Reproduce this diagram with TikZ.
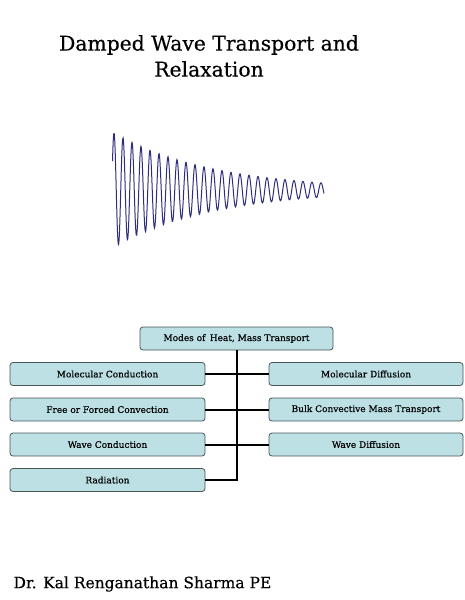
\documentclass[tikz,border=0pt]{standalone}
\usepackage{fontspec}
\setmainfont{DejaVu Serif}
\newfontfamily\heavyserif{DejaVu Serif}[FakeBold=0.35]
\definecolor{boxfill}{HTML}{BCE0E4}
\definecolor{boxline}{HTML}{4A5558}
\definecolor{wave}{HTML}{2E2E7E}
\tikzset{
  mode/.style={draw=boxline, fill=boxfill, rounded corners=3pt, line width=0.8pt,
    minimum height=23pt, inner sep=0pt, font=\heavyserif\fontsize{9}{11}\selectfont},
  leftmode/.style={mode, minimum width=195pt},
  rightmode/.style={mode, minimum width=194pt},
  link/.style={line width=2pt, black},
}
\begin{document}
\begin{tikzpicture}[x=1pt,y=-1pt]
\useasboundingbox[fill=white] (0,0) rectangle (465,600);
% title
\node[font=\heavyserif\fontsize{20.3}{26}\selectfont, align=center] (title) at (209,56)
  {Damped Wave Transport and\\Relaxation};
% damped wave
\draw[wave, line width=1pt, smooth]
  plot[domain=112.5:324, samples=500]
  (\x,{190-57*exp(-0.01*(\x-114))*sin(40*(\x-114)+90)});
% chart
\node[mode, minimum width=193pt] (top) at (236.5,338.5) {Modes of\, Heat, Mass Transport};
\node[leftmode] (l1) at (107.5,374) {Molecular Conduction};
\node[leftmode] (l2) at (107.5,409.5) {Free or Forced Convection};
\node[leftmode] (l3) at (107.5,444.5) {Wave Conduction};
\node[leftmode] (l4) at (107.5,480) {Radiation};
\node[rightmode] (r1) at (366,374) {Molecular Diffusion};
\node[rightmode] (r2) at (366,409.5) {Bulk Convective Mass Transport};
\node[rightmode] (r3) at (366,444.5) {Wave Diffusion};
\coordinate (bend) at (top.south |- l4.east);
\draw[link] (top.south) -- (bend) -- (l4.east);
\draw[link] (l1.east) -- (r1.west);
\draw[link] (l2.east) -- (r2.west);
\draw[link] (l3.east) -- (r3.west);
% author
\node[font=\heavyserif\fontsize{15.5}{18}\selectfont, anchor=west] (author) at (10,584)
  {Dr. Kal Renganathan Sharma PE};
\end{tikzpicture}
\end{document}
